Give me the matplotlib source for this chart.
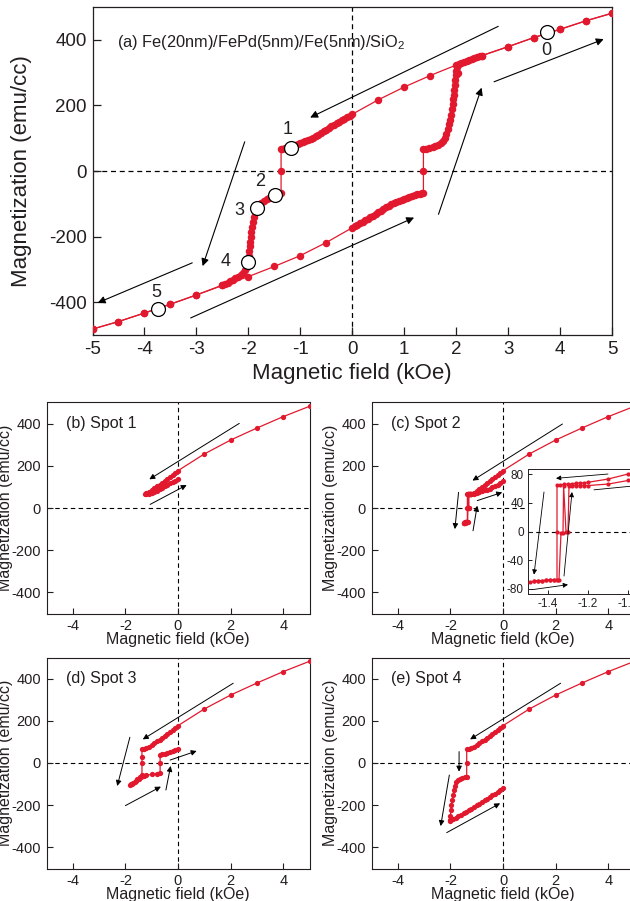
import matplotlib
matplotlib.use('Agg')
import matplotlib.pyplot as plt

plt.rcParams['font.family'] = ['Liberation Sans', 'DejaVu Sans']
plt.rcParams['mathtext.fontset'] = 'custom'
plt.rcParams['mathtext.rm'] = 'Liberation Sans'
plt.rcParams['axes.unicode_minus'] = False

RED = '#e2192e'
INK = '#231f20'

# (a) full hysteresis loop, field in kOe, magnetization in emu/cc
a_down_h = [5.0, 4.5, 4.0, 3.5, 3.0, 2.5, 2.0, 1.5, 1.0, 0.5, 0.0,
            -0.05, -0.1, -0.15, -0.2, -0.25, -0.3, -0.35, -0.4, -0.45, -0.5,
            -0.55, -0.6, -0.65, -0.7, -0.75, -0.8, -0.85, -0.9, -0.95, -1.0,
            -1.05, -1.1, -1.15, -1.2, -1.25, -1.3, -1.35, -1.37, -1.37, -1.37,
            -1.42, -1.48, -1.55, -1.6, -1.65, -1.7, -1.75, -1.8, -1.84, -1.87,
            -1.89, -1.91, -1.93, -1.94, -1.95, -1.96, -1.97, -1.98, -1.99, -2.0,
            -2.01, -2.03, -2.06, -2.1, -2.15, -2.2, -2.25, -2.3, -2.35, -2.4,
            -2.45, -2.5, -3.0, -3.5, -4.0, -4.5, -5.0]
a_down_m = [481, 458, 432, 407, 379, 352, 323, 291, 256, 217, 173,
            168, 164, 159, 155, 150, 145, 141, 136, 131, 126,
            121, 116, 111, 106, 101, 97, 93, 90, 87, 84,
            81, 78, 75, 73, 71, 69, 67, 66, 0, -66,
            -69, -72, -77, -81, -86, -91, -97, -104, -114, -126,
            -140, -155, -170, -185, -200, -215, -230, -245, -260, -272,
            -280, -292, -303, -311, -317, -322, -327, -332, -336, -340,
            -344, -348, -378, -406, -433, -459, -482]
a_up_h = [-5.0, -4.5, -4.0, -3.5, -3.0, -2.5, -2.0, -1.5, -1.0, -0.5, 0.0,
          0.05, 0.1, 0.15, 0.2, 0.25, 0.3, 0.35, 0.4, 0.45, 0.5,
          0.55, 0.6, 0.65, 0.7, 0.75, 0.8, 0.85, 0.9, 0.95, 1.0,
          1.05, 1.1, 1.15, 1.2, 1.25, 1.3, 1.35, 1.37, 1.37, 1.37,
          1.42, 1.48, 1.55, 1.6, 1.65, 1.7, 1.74, 1.78, 1.81, 1.84,
          1.86, 1.88, 1.9, 1.92, 1.93, 1.94, 1.95, 1.96, 1.97, 1.98,
          1.99, 2.0, 2.02, 2.04, 2.02, 2.06, 2.1, 2.15, 2.2, 2.25, 2.3,
          2.35, 2.4, 2.45, 2.5, 3.0, 3.5, 4.0, 4.5, 5.0]
a_up_m = [-482, -459, -433, -406, -378, -349, -322, -291, -258, -218, -173,
          -168, -164, -159, -155, -150, -145, -141, -136, -131, -126,
          -121, -116, -111, -106, -101, -97, -93, -90, -87, -84,
          -81, -78, -75, -73, -71, -69, -67, -66, 0, 66,
          68, 70, 72, 75, 79, 85, 92, 102, 114, 128,
          142, 157, 172, 188, 203, 218, 233, 248, 263, 278,
          293, 306, 316, 300, 322, 326, 330, 333, 336, 339, 342,
          345, 348, 350, 352, 379, 407, 432, 458, 481]
spot_h = [3.75, -1.17, -1.48, -1.84, -2.01, -3.73]
spot_m = [425, 70, -72, -114, -277, -421]
spot_names = ['0', '1', '2', '3', '4', '5']
spot_name_h = [3.74, -1.24, -1.77, -2.18, -2.43, -3.77]
spot_name_m = [366, 128, -32, -120, -275, -369]

# common descending branch from +5 kOe used by the minor loops
hi_h = [5, 4, 3, 2, 1, 0]
hi_m = [482, 433, 379, 322, 256, 177]

# (b) Spot 1
b_h = hi_h + [-0.1, -0.2, -0.3, -0.4, -0.5, -0.6, -0.7, -0.8, -0.9, -1.0, -1.1, -1.2, -1.25,
              -1.2, -1.1, -1.0, -0.9, -0.8, -0.7, -0.6, -0.5, -0.4, -0.3, -0.2, -0.1, 0.0]
b_m = hi_m + [167, 157, 148, 138, 129, 120, 111, 102, 93, 84, 76, 70, 67,
              67, 68, 70, 74, 80, 88, 97, 104, 111, 117, 123, 130, 138]

# (c) Spot 2 (also shown enlarged in the inset)
c_h = hi_h + [-0.1, -0.2, -0.3, -0.4, -0.5, -0.6, -0.7, -0.8, -0.9, -1.0, -1.1, -1.2,
              -1.22, -1.24, -1.26, -1.28, -1.3, -1.32, -1.34, -1.355, -1.355, -1.355,
              -1.37, -1.39, -1.41, -1.43, -1.45, -1.47, -1.49,
              -1.47, -1.45, -1.43, -1.41, -1.39, -1.37, -1.35, -1.345,
              -1.335, -1.325, -1.322, -1.31, -1.30, -1.295,
              -1.28, -1.26, -1.24, -1.22, -1.2, -1.1, -1.0, -0.9, -0.8, -0.7, -0.6,
              -0.5, -0.4, -0.3, -0.2, -0.1, 0.0]
c_m = hi_m + [168, 158, 149, 139, 129, 119, 110, 100, 90, 80, 73, 68.5,
              68, 67.5, 67, 66.5, 66, 65.5, 65, 65, 0, -67,
              -67, -67.5, -68, -68.5, -69, -69.5, -70,
              -69.5, -69, -68.5, -68, -67.5, -67, -67, -67,
              -2, -2, 64, 0, 0, 64,
              64, 64, 64, 64, 64, 66, 71, 75, 79, 83, 87,
              92, 98, 104, 111, 119, 127]

# (d) Spot 3
d_h = hi_h + [-0.1, -0.2, -0.3, -0.4, -0.5, -0.6, -0.7, -0.8, -0.9, -1.0, -1.1, -1.2, -1.3, -1.37,
              -1.37, -1.37, -1.37, -1.45, -1.55, -1.65, -1.75, -1.82,
              -1.78, -1.7, -1.6, -1.5, -1.4, -1.3, -1.2, -1.0, -0.8, -0.68,
              -0.68, -0.68, -0.6, -0.5, -0.4, -0.3, -0.2, -0.1, 0.0]
d_m = hi_m + [167, 157, 148, 138, 129, 120, 111, 102, 93, 84, 76, 70, 67, 65,
              30, 0, -55, -66, -77, -88, -98, -106,
              -101, -93, -84, -74, -66, -61, -58, -54, -51, -48,
              0, 40, 42, 45, 48, 52, 56, 61, 66]

# (e) Spot 4
e_h = hi_h + [-0.1, -0.2, -0.3, -0.4, -0.5, -0.6, -0.7, -0.8, -0.9, -1.0, -1.1, -1.2, -1.3, -1.38,
              -1.38, -1.38, -1.45, -1.55, -1.65, -1.72, -1.78, -1.83, -1.87, -1.9, -1.93,
              -1.96, -1.98, -2.0, -2.02,
              -2.0, -1.9, -1.8, -1.7, -1.6, -1.5, -1.4, -1.3, -1.2, -1.1, -1.0, -0.9,
              -0.8, -0.7, -0.6, -0.5, -0.4, -0.3, -0.2, -0.1, 0.0]
e_m = hi_m + [167, 157, 148, 138, 129, 120, 111, 102, 93, 84, 76, 70, 67, 65,
              0, -65, -67, -70, -75, -82, -92, -108, -128, -150, -175,
              -200, -225, -250, -270,
              -274, -267, -260, -253, -246, -239, -232, -224, -216, -208, -200, -193,
              -185, -177, -169, -161, -153, -145, -137, -128, -120]

# arrows: (start field, start mag, end field, end mag)
a_arrows = [(2.81, 441, -0.81, 163), (2.73, 272, 4.84, 402), (1.66, -132, 2.49, 254),
            (-3.11, -448, 1.19, -142), (-2.07, 89, -2.88, -290), (-3.08, -280, -4.9, -402)]
b_arrows = [(2.33, 401, -1.09, 136), (-1.06, 17, 0.33, 109)]
c_arrows = [(2.26, 398, -1.16, 130), (-0.98, 35, -0.03, 74), (-1.69, 74, -1.83, -100),
            (-1.14, -108, -0.98, 11)]
d_arrows = [(2.1, 378, -1.34, 112), (-1.83, 122, -2.31, -109), (-2.0, -202, -0.65, -112),
            (-0.46, -128, -0.28, -14), (-0.3, 14, 0.71, 57)]
e_arrows = [(2.19, 378, -1.25, 112), (-1.67, 54, -1.67, -41), (-2.04, -57, -2.37, -299),
            (-2.14, -330, -0.11, -191)]
inset_arrows = [(-1.1, 80, -1.36, 74), (-1.17, 58, -0.95, 64), (-1.42, 55, -1.47, -60),
                (-1.48, -81, -1.3, -74), (-1.32, -62, -1.28, 55)]

W, H = 630, 901
fig = plt.figure(figsize=(W / 100, H / 100), dpi=100)


def box(l, t, r, b):
    return [l / W, 1 - b / H, (r - l) / W, (b - t) / H]


def frame(ax, fs, tl, lw):
    ax.set_xlim(-5, 5)
    ax.set_ylim(-500, 500)
    ax.axhline(0, color='k', lw=lw, dashes=(4, 3), zorder=1)
    ax.axvline(0, color='k', lw=lw, dashes=(4, 3), zorder=1)
    ax.tick_params(direction='in', length=tl, width=lw, labelsize=fs, colors=INK, pad=4,
                   top=False, right=False)
    for s in ax.spines.values():
        s.set_linewidth(lw)
        s.set_color(INK)


def arrows(ax, lst, lw, ms):
    for x0, y0, x1, y1 in lst:
        ax.annotate('', xy=(x1, y1), xytext=(x0, y0),
                    arrowprops=dict(arrowstyle='-|>', color='k', lw=lw, mutation_scale=ms,
                                    shrinkA=0, shrinkB=0))


# ---- main panel (a)
ax = fig.add_axes(box(92.5, 7, 612, 335))
frame(ax, 13.5, 6, 0.9)
ax.set_xticks(range(-5, 6))
ax.set_yticks([-400, -200, 0, 200, 400])
ax.plot(a_down_h, a_down_m, '-o', color=RED, lw=0.9, ms=5.4, mew=0, zorder=3)
ax.plot(a_up_h, a_up_m, '-o', color=RED, lw=0.9, ms=5.4, mew=0, zorder=3)
ax.plot(spot_h, spot_m, 'o', mfc='white', mec='k', mew=0.9, ms=10, zorder=5)
for s, x, y in zip(spot_names, spot_name_h, spot_name_m):
    ax.text(x, y, s, fontsize=13, ha='center', va='center', color=INK)
ax.text(-4.52, 392, '(a) Fe(20nm)/FePd(5nm)/Fe(5nm)/SiO$_2$', fontsize=11.8,
        va='center', color=INK)
arrows(ax, a_arrows, 0.8, 11)
ax.set_xlabel('Magnetic field (kOe)', fontsize=16, color=INK)
ax.set_ylabel('Magnetization (emu/cc)', fontsize=16, color=INK)
ax.xaxis.set_label_coords(0.5, -0.085)
ax.yaxis.set_label_coords(-0.117, 0.5)

# ---- small panels
panels = [
    ((46.5, 402.5, 309.5, 613.5), '(b) Spot 1', b_h, b_m, b_arrows),
    ((371.5, 402.5, 634.5, 613.5), '(c) Spot 2', c_h, c_m, c_arrows),
    ((46.5, 657.5, 309.5, 868.5), '(d) Spot 3', d_h, d_m, d_arrows),
    ((371.5, 657.5, 634.5, 868.5), '(e) Spot 4', e_h, e_m, e_arrows),
]
for pos, title, hh, mm, arr in panels:
    ax = fig.add_axes(box(*pos))
    frame(ax, 10.5, 4, 0.8)
    ax.set_xticks([-4, -2, 0, 2, 4])
    ax.set_yticks([-400, -200, 0, 200, 400])
    ax.plot(hh, mm, '-o', color=RED, lw=0.9, ms=3.8, mew=0, zorder=3)
    ax.text(-4.25, 400, title, fontsize=11.5, va='center', color=INK)
    arrows(ax, arr, 0.7, 8)
    ax.set_xlabel('Magnetic field (kOe)', fontsize=11.5, color=INK)
    ax.set_ylabel('Magnetization (emu/cc)', fontsize=11.5, color=INK)
    ax.xaxis.set_label_coords(0.5, -0.086)
    ax.yaxis.set_label_coords(-0.126, 0.5)

# ---- inset of (c)
ax = fig.add_axes(box(528, 469, 638, 594))
ax.set_facecolor('white')
ax.set_xlim(-1.5, -0.95)
ax.set_ylim(-87, 87)
ax.axhline(0, color='k', lw=0.8, dashes=(4, 3), zorder=1)
ax.set_xticks([-1.4, -1.2, -1.0])
ax.set_xticklabels(['-1.4', '-1.2', '-1.0'])
ax.set_yticks([-80, -40, 0, 40, 80])
ax.tick_params(direction='in', length=3, width=0.7, labelsize=8.5, colors=INK, pad=3,
               top=False, right=False)
for s in ax.spines.values():
    s.set_linewidth(0.7)
    s.set_color(INK)
ax.plot(c_h, c_m, '-o', color=RED, lw=0.9, ms=3, mew=0, zorder=3)
arrows(ax, inset_arrows, 0.6, 7)

fig.savefig('out.png', dpi=100)
